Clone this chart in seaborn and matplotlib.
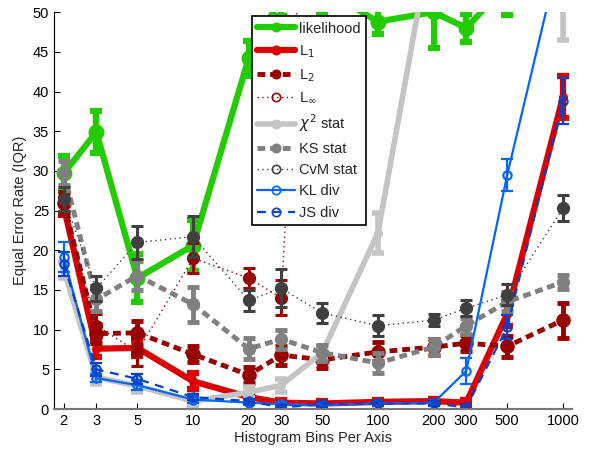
import numpy as np
import matplotlib
matplotlib.use("Agg")
import matplotlib.pyplot as plt
import seaborn as sns
from matplotlib.lines import Line2D

bins = [2, 3, 5, 10, 20, 30, 50, 100, 200, 300, 500, 1000]

likelihood = [29.7, 34.9, 16.5, 20.6, 44.2, 52.0, 53.0, 48.8, 50.0, 48.0, 53.5, 60.0]
likelihood_err = [2.2, 2.7, 3.0, 3.2, 2.2, 2.5, 3.2, 1.6, 4.5, 1.8, 3.8, 3.0]
l1 = [25.5, 7.6, 7.7, 3.5, 1.5, 0.8, 0.7, 0.9, 1.0, 0.8, 12.0, 39.3]
l1_err = [1.0, 1.0, 1.0, 1.0, 0.4, 0.3, 0.3, 0.3, 0.3, 0.3, 1.5, 2.7]
l2 = [26.0, 9.5, 9.6, 6.9, 4.3, 6.8, 6.2, 7.2, 7.8, 8.3, 7.9, 11.2]
l2_err = [1.2, 1.2, 1.5, 1.0, 1.0, 1.2, 1.0, 1.2, 1.0, 1.0, 1.3, 2.2]
linf = [26.0, 10.5, 7.2, 19.0, 16.5, 14.0, 110.0, 150.0, 150.0, 150.0, 150.0, 150.0]
linf_err = [1.5, 1.5, 1.8, 1.9, 1.3, 2.2, 3.0, 3.0, 3.0, 3.0, 3.0, 3.0]
chi2 = [17.5, 4.0, 2.9, 1.0, 2.1, 3.0, 7.1, 22.2, 61.0, 70.0, 75.0, 53.0]
chi2_err = [1.0, 0.8, 0.8, 0.8, 0.7, 0.8, 0.8, 2.5, 3.0, 3.0, 3.0, 6.5]
ks = [29.7, 13.8, 16.8, 13.2, 7.6, 8.8, 7.1, 5.8, 7.8, 10.5, 13.5, 16.0]
ks_err = [1.5, 1.5, 1.8, 2.2, 1.3, 1.2, 1.0, 1.3, 1.0, 1.0, 1.2, 0.9]
cvm = [26.5, 15.2, 21.0, 21.7, 13.7, 15.2, 12.1, 10.5, 11.2, 12.7, 14.4, 25.3]
cvm_err = [1.5, 1.6, 2.1, 2.6, 1.3, 2.4, 1.3, 1.3, 0.8, 1.0, 1.3, 1.6]
kl = [19.1, 3.9, 3.0, 1.2, 0.8, 0.6, 0.5, 0.7, 0.8, 4.8, 29.5, 59.0]
kl_err = [1.9, 0.5, 0.6, 0.5, 0.3, 0.3, 0.3, 0.3, 0.3, 1.6, 2.0, 3.0]
js = [18.3, 5.0, 3.8, 1.5, 1.0, 0.2, 0.6, 0.7, 0.7, 0.2, 10.3, 38.8]
js_err = [1.5, 0.8, 0.6, 0.4, 0.3, 0.3, 0.3, 0.3, 0.3, 0.3, 1.5, 2.9]

labels = ["likelihood", "L$_1$", "L$_2$", "L$_\\infty$", "$\\chi^2$ stat",
          "KS stat", "CvM stat", "KL div", "JS div"]
values = [likelihood, l1, l2, linf, chi2, ks, cvm, kl, js]
errors = [likelihood_err, l1_err, l2_err, linf_err, chi2_err, ks_err, cvm_err, kl_err, js_err]

dash = (0, (1.6, 1.0))
dot = (0, (1, 2.5))
# color, linestyle, linewidth, marker size, filled, errorbar width
styles = [
    ("#22cc00", "-", 4.5, 10, True, 4.5),
    ("#dd0000", "-", 4.5, 5, True, 4.5),
    ("#990000", dash, 3.5, 9, True, 3.5),
    ("#990000", dot, 1.0, 8, True, 2.2),
    ("#c4c4c4", "-", 4.0, 5, True, 4.0),
    ("#808080", dash, 3.5, 8, True, 3.5),
    ("#404040", dot, 1.0, 8, True, 2.2),
    ("#0066ff", "-", 1.6, 6, False, 1.6),
    ("#0044cc", (0, (4, 3)), 1.6, 6, False, 1.6),
]

sns.set_style("ticks")
plt.rcParams["font.family"] = ["Liberation Sans", "DejaVu Sans"]

fig = plt.figure(figsize=(5.9, 4.49), dpi=100)
ax = fig.add_axes([0.0915, 0.089, 0.878, 0.884])

for lab, v, e, (c, ls, lw, ms, filled, ew) in zip(labels, values, errors, styles):
    ax.errorbar(bins, v, yerr=e, fmt="none", ecolor=c, elinewidth=ew,
                capsize=4, capthick=ew)
    sns.lineplot(x=bins, y=v, ax=ax, color=c, linestyle=ls, linewidth=lw,
                 marker="o", markersize=ms, markeredgewidth=1.5,
                 markerfacecolor=c if filled else "none", markeredgecolor=c,
                 legend=False)

handles = []
for lab, (c, ls, lw, ms, filled, ew) in zip(labels, styles):
    open_marker = lab in ("L$_\\infty$", "CvM stat", "KL div", "JS div")
    handles.append(Line2D([], [], color=c, linestyle=ls, linewidth=lw, marker="o",
                          markersize=6, markeredgewidth=1.2,
                          markerfacecolor="none" if open_marker else c,
                          markeredgecolor=c, label=lab))
leg = ax.legend(handles=handles, loc="upper left", bbox_to_anchor=(0.374, 1.0),
                fontsize=10.5, handlelength=2.6, labelspacing=0.5,
                fancybox=False, framealpha=1, edgecolor="black",
                borderpad=0.35, handletextpad=0.3, borderaxespad=0.3)
leg.get_frame().set_linewidth(1.2)

ax.set_xscale("log")
ax.set_xlim(1.77, 1120)
ax.set_ylim(0, 50)
ax.set_xticks(bins)
ax.set_xticklabels([str(b) for b in bins])
ax.minorticks_off()
ax.set_yticks(np.arange(0, 51, 5))
ax.tick_params(direction="in", length=4, labelsize=10.5, colors="black")
ax.set_xlabel("Histogram Bins Per Axis", fontsize=10.5, labelpad=2)
ax.set_ylabel("Equal Error Rate (IQR)", fontsize=10.5, labelpad=4)
sns.despine(ax=ax)
ax.spines["left"].set_color("black")
ax.spines["bottom"].set_color("#777777")
ax.spines["bottom"].set_linewidth(1.5)

fig.savefig("out.png", dpi=100)
